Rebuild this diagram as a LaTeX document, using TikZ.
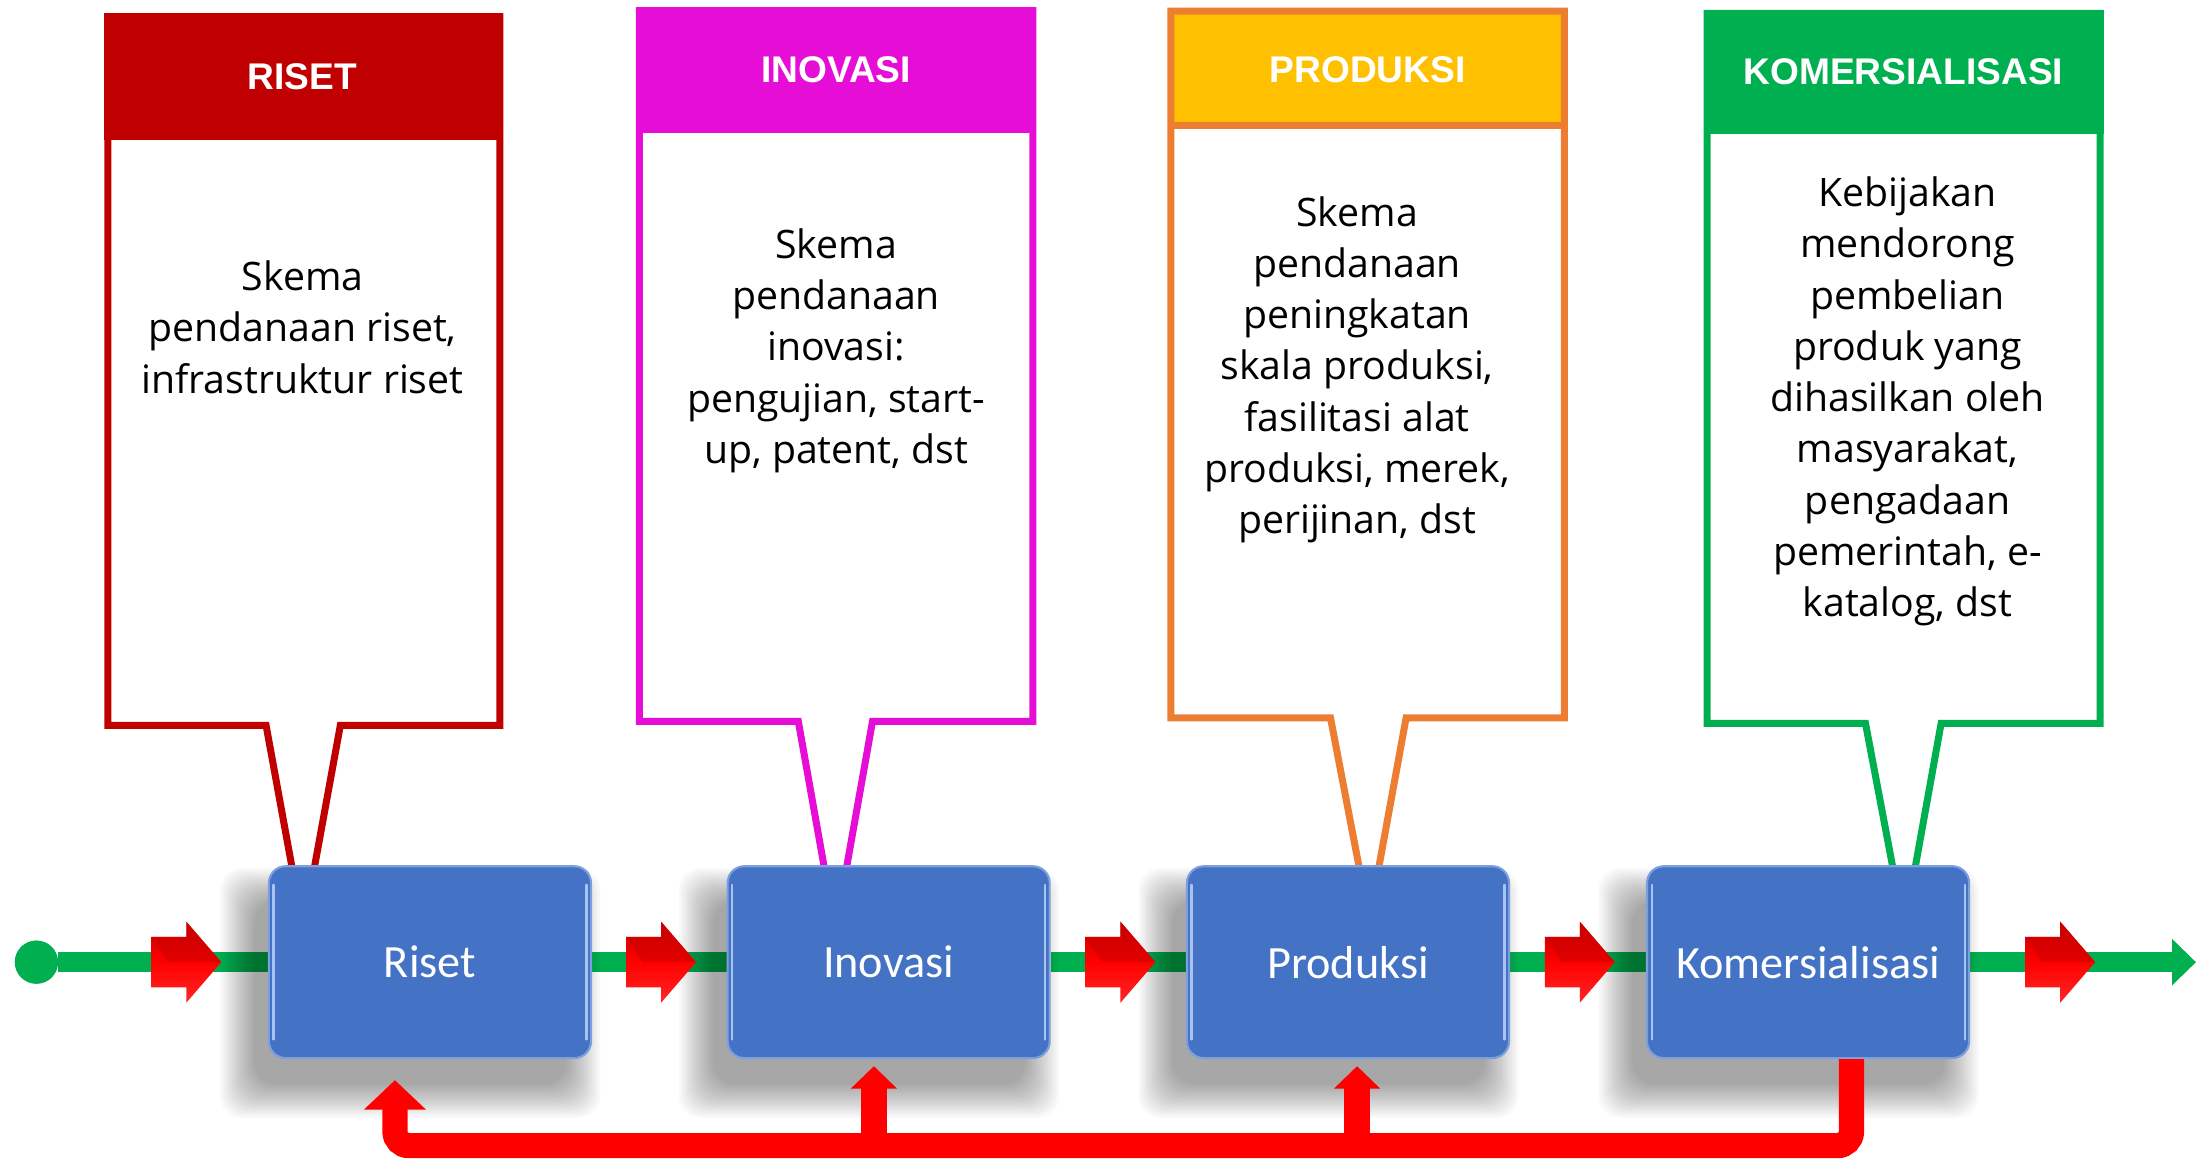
\documentclass[tikz,border=0pt]{standalone}
\usepackage{fontspec}
\newfontfamily\bodyfont{Open Sans}
\newfontfamily\boxfont{Carlito}
\newfontfamily\headfont{Liberation Sans}
\usetikzlibrary{arrows.meta}
\definecolor{cRiset}{HTML}{C00000}
\definecolor{cInov}{HTML}{E60ED6}
\definecolor{cProdB}{HTML}{ED7D31}
\definecolor{cProdF}{HTML}{FFC000}
\definecolor{cKom}{HTML}{00B050}
\definecolor{boxblue}{HTML}{4472C4}
\definecolor{boxedge}{HTML}{7C9FDD}
\definecolor{boxhi}{HTML}{A9C3F0}
\definecolor{flowgreen}{HTML}{00B050}
\definecolor{arrowred}{HTML}{FF0000}
\definecolor{arrowdark}{HTML}{C80000}
\pgfdeclarelayer{back}
\pgfdeclarelayer{bg}
\pgfdeclarelayer{shadow}
\pgfsetlayers{back,bg,shadow,main}
\tikzset{
  callout/.style={line width=5pt, line join=miter},
  headtxt/.style={font=\headfont\bfseries\fontsize{26.5}{30}\selectfont, text=white, inner sep=0pt},
  bodytxt/.style={font=\bodyfont\fontsize{28}{36.6}\selectfont, align=center, anchor=north, inner sep=0pt, text=black},
  stage/.style={rounded corners=12pt, fill=boxblue, draw=boxedge, line width=1.5pt,
    minimum width=230pt, minimum height=137pt, inner sep=0pt, text=white,
    font=\boxfont\fontsize{33}{40}\selectfont},
  shadowpiece/.style={fill=black, opacity=0.022},
  flow/.style={line width=14pt, draw=flowgreen},
  feedback/.style={line width=18pt, draw=arrowred},
  redarrow/.pic={
    \shade[top color=arrowdark, bottom color=arrowred!85!white, middle color=arrowred]
      (-50,-18) -- (-25,-18) -- (-25,-29) -- (0,0) -- (-25,29) -- (-25,18) -- (-50,18) -- cycle;
    \fill[arrowdark, opacity=0.5] (-50,-18) -- (-25,-18) -- (-25,-29) -- (0,0) -- (-25,0) -- (-38,0) -- cycle;
  },
}
\begin{document}
\begin{tikzpicture}[x=1pt,y=-1pt]
\useasboundingbox (0,0) rectangle (1568,830);
\begin{pgfonlayer}{back}
\fill[white] (0,0) rectangle (1568,830);
\end{pgfonlayer}

% ---------- stage boxes ----------
\node[stage] (riset)   at (307,687)  {Riset};
\node[stage] (inovasi) at (634.5,687) {Inovasi};
\node[stage] (produksi) at (962.5,687) {Produksi};
\node[stage] (kom)     at (1291,687) {Komersialisasi};
\foreach \n in {riset,inovasi,produksi,kom}{
  \draw[boxhi, line width=1.5pt, line cap=round] ([xshift=4pt,yshift=-14pt]\n.north west) -- ([xshift=4pt,yshift=14pt]\n.south west);
  \draw[boxhi, line width=1.5pt, line cap=round] ([xshift=-4pt,yshift=-14pt]\n.north east) -- ([xshift=-4pt,yshift=14pt]\n.south east);
  \begin{pgfonlayer}{shadow}
  \foreach \k in {0,...,15}{
    \pgfmathsetmacro\d{20-1.6*\k}
    \fill[shadowpiece, rounded corners=16pt]
      ([xshift=-14pt-\d pt,yshift=-22pt-\d pt]\n.south west) rectangle ([xshift=-14pt+\d pt,yshift=-22pt+\d pt]\n.north east);
  }
  \end{pgfonlayer}
}

\begin{pgfonlayer}{bg}
% ---------- callouts ----------
% RISET
\draw[callout, draw=cRiset] (209,622) -- (190,518) -- (77,518) -- (77,12) -- (357,12) -- (357,518) -- (243,518) -- (224,622);
\fill[cRiset] (74.5,9.5) rectangle (359.5,100);
% INOVASI
\draw[callout, draw=cInov] (589,622) -- (570,515) -- (456.5,515) -- (456.5,7.5) -- (737.5,7.5) -- (737.5,515) -- (623,515) -- (604,622);
\fill[cInov] (454,5) rectangle (740,95);
% PRODUKSI
\fill[cProdF] (836,8) rectangle (1117,89.5);
\draw[callout, draw=cProdB] (971,622) -- (950,512.5) -- (836,512.5) -- (836,8) -- (1117,8) -- (1117,512.5) -- (1004,512.5) -- (984,622);
\draw[callout, draw=cProdB] (836,89.5) -- (1117,89.5);
% KOMERSIALISASI
\draw[callout, draw=cKom] (1352,622) -- (1332,516.5) -- (1219,516.5) -- (1219,9.5) -- (1499.5,9.5) -- (1499.5,516.5) -- (1386,516.5) -- (1367,622);
\fill[cKom] (1216.5,7) rectangle (1502,96);

% ---------- main flow ----------
\node[circle, fill=flowgreen, minimum size=31pt, inner sep=0pt] (start) at (26,687) {};
\coordinate (end) at (1568,687);
\draw[flow] (start) -- (riset);
\draw[flow] (riset) -- (inovasi);
\draw[flow] (inovasi) -- (produksi);
\draw[flow] (produksi) -- (kom);
\draw[flow, -{Triangle[width=32pt,length=17pt]}] (kom) -- (end);
\end{pgfonlayer}

% ---------- header and body texts ----------
\node[headtxt] (hRiset) at (216,55) {RISET};
\node[headtxt] (hInov) at (597,50) {INOVASI};
\node[headtxt] (hProd) at (976.5,49.5) {PRODUKSI};
\node[headtxt] (hKom) at (1359,51.5) {KOMERSIALISASI};

\node[bodytxt] (tRiset) at (216,186) {Skema\\pendanaan riset,\\infrastruktur riset};
\node[bodytxt] (tInov) at (597,163) {Skema\\pendanaan\\inovasi:\\pengujian, start-\\up, patent, dst};
\node[bodytxt] (tProd) at (969,140) {Skema\\pendanaan\\peningkatan\\skala produksi,\\fasilitasi alat\\produksi, merek,\\perijinan, dst};
\node[bodytxt] (tKom) at (1362,126) {Kebijakan\\mendorong\\pembelian\\produk yang\\dihasilkan oleh\\masyarakat,\\pengadaan\\pemerintah, e-\\katalog, dst};

% ---------- red flow arrows ----------
\pic at (158,687) {redarrow};
\pic at (497,687) {redarrow};
\pic at (825,687) {redarrow};
\pic at (1153,687) {redarrow};
\pic at (1496,687) {redarrow};

% ---------- feedback loop ----------
\coordinate (fbK) at (1322,818);
\coordinate (fbR) at (282,818);
\coordinate (fbI) at (624,818);
\coordinate (fbP) at (969,818);
\draw[feedback, rounded corners=10pt, -{Triangle[width=43pt,length=21pt]}]
  ([xshift=31pt]kom.south) -- (fbK) -- (fbR) -- ([xshift=-25pt,yshift=-15pt]riset.south);
\draw[feedback, line width=19pt, -{Triangle[width=32pt,length=16pt]}]
  (fbI) -- ([xshift=-10.5pt,yshift=-5pt]inovasi.south);
\draw[feedback, line width=19pt, -{Triangle[width=32pt,length=16pt]}]
  (fbP) -- ([xshift=6.5pt,yshift=-5pt]produksi.south);
\end{tikzpicture}
\end{document}
